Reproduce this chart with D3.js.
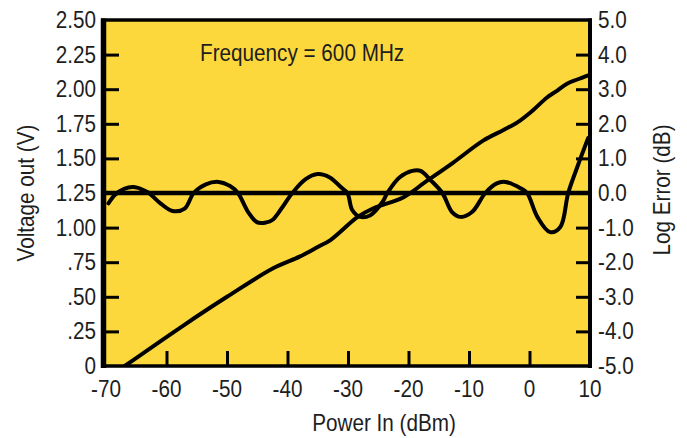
<!DOCTYPE html>
<html>
<head>
<meta charset="utf-8">
<script src="https://cdn.jsdelivr.net/npm/d3@7"></script>
<style>
  html, body { margin: 0; padding: 0; background: #fff; }
  svg text { font-family: "Liberation Sans", Arial, Helvetica, sans-serif; fill: #1e1e1e; }
</style>
</head>
<body>
<svg id="chart" width="687" height="438"></svg>
<script>
// ---- data ----
const xTicks = [-70, -60, -50, -40, -30, -20, -10, 0, 10];
const leftTicks = [0, 0.25, 0.5, 0.75, 1.0, 1.25, 1.5, 1.75, 2.0, 2.25, 2.5];
const leftTickLabels = ["0", ".25", ".50", ".75", "1.00", "1.25", "1.50", "1.75", "2.00", "2.25", "2.50"];
const rightTicks = [-5, -4, -3, -2, -1, 0, 1, 2, 3, 4, 5];
const rightTickLabels = ["-5.0", "-4.0", "-3.0", "-2.0", "-1.0", "0.0", "1.0", "2.0", "3.0", "4.0", "5.0"];

const voltPower = [-66.9, -57.1, -50, -42.3, -38, -35, -32.9, -28.4, -25.8, -20.8, -17.2, -12.6, -7.6, -4.3, -2.0, 0.1, 2.9, 4.6, 6.2, 7.9, 9.7];
const voltValues = [0, 0.296, 0.50, 0.708, 0.79, 0.86, 0.91, 1.077, 1.14, 1.22, 1.33, 1.47, 1.63, 1.705, 1.76, 1.83, 1.94, 1.99, 2.04, 2.07, 2.10];

const errPower = [-69.6, -68.5, -67, -65.5, -64, -62.9, -61, -59, -57, -55.5, -53.5, -51.4, -49.5, -48.2, -46.5, -45, -43.5, -42.5, -41, -39.2, -37, -35, -33, -31.2, -30.1, -29.3, -28, -26.3, -24.3, -23.5, -21.5, -19.4, -18, -16.4, -14.4, -12.8, -11.4, -9.5, -7.3, -5.5, -4.0, -1.5, -0.4, 1.3, 3.4, 5.1, 6.4, 7.9, 9.7];
const errValues = [-0.3, -0.05, 0.12, 0.17, 0.1, 0.0, -0.3, -0.52, -0.45, 0.0, 0.25, 0.32, 0.2, 0.0, -0.55, -0.85, -0.85, -0.78, -0.45, 0.0, 0.4, 0.55, 0.45, 0.17, 0.0, -0.49, -0.69, -0.64, -0.26, 0.0, 0.45, 0.64, 0.64, 0.38, 0.0, -0.55, -0.69, -0.55, 0.0, 0.27, 0.32, 0.14, 0.0, -0.69, -1.13, -0.98, 0.0, 0.75, 1.59];

const titleText = "Frequency = 600 MHz";
const xTitle = "Power In (dBm)";
const yLeftTitle = "Voltage out (V)";
const yRightTitle = "Log Error (dB)";

// ---- layout ----
const L = 106, R = 590, T = 20, B = 366;
const FS = 23, SX = 0.9;
const svg = d3.select("#chart");

const x = d3.scaleLinear().domain([-70, 10]).range([L, R]);
const yV = d3.scaleLinear().domain([0, 2.5]).range([B, T]);
const yE = d3.scaleLinear().domain([-5, 5]).range([B, T]);

// plot background
svg.append("rect").attr("x", L).attr("y", T).attr("width", R - L).attr("height", B - T)
  .attr("fill", "#FDD83D");

svg.append("defs").append("clipPath").attr("id", "clip")
  .append("rect").attr("x", L).attr("y", T).attr("width", R - L).attr("height", B - T);

// helper for condensed text
function label(txt, px, py, anchor, rot) {
  const g = svg.append("g").attr("transform", `translate(${px},${py})` + (rot ? ` rotate(${rot})` : "") + ` scale(${SX},1)`);
  g.append("text").attr("text-anchor", anchor).attr("font-size", FS).text(txt);
  return g;
}

// ticks (inward) via axes
const axL = d3.axisRight(yV).tickValues(leftTicks.slice(1, -1)).tickSize(13).tickFormat("");
const axR = d3.axisLeft(yE).tickValues(rightTicks.slice(1, -1)).tickSize(14).tickFormat("");
const axB = d3.axisTop(x).tickValues(xTicks.slice(1, -1)).tickSize(15).tickFormat("");
[ [axL, `translate(${L},0)`], [axR, `translate(${R},0)`], [axB, `translate(0,${B})`] ].forEach(([ax, tr]) => {
  const g = svg.append("g").attr("transform", tr).call(ax);
  g.select(".domain").remove();
  g.selectAll("line").attr("stroke", "#000").attr("stroke-width", 3);
});

// zero line for log error
svg.append("line").attr("x1", L).attr("x2", R).attr("y1", yE(0)).attr("y2", yE(0))
  .attr("stroke", "#000").attr("stroke-width", 4.5);

// curves
const cg = svg.append("g").attr("clip-path", "url(#clip)");
const voltData = voltPower.map((p, i) => [p, voltValues[i]]);
const errData = errPower.map((p, i) => [p, errValues[i]]);
cg.append("path").datum(voltData)
  .attr("d", d3.line().x(d => x(d[0])).y(d => yV(d[1])).curve(d3.curveCatmullRom.alpha(0.5)))
  .attr("fill", "none").attr("stroke", "#000").attr("stroke-width", 4).attr("stroke-linejoin", "round").attr("stroke-linecap", "round");
cg.append("path").datum(errData)
  .attr("d", d3.line().x(d => x(d[0])).y(d => yE(d[1])).curve(d3.curveCatmullRom.alpha(0.5)))
  .attr("fill", "none").attr("stroke", "#000").attr("stroke-width", 4).attr("stroke-linejoin", "round").attr("stroke-linecap", "round");

// frame
svg.append("line").attr("x1", L - 2.5).attr("x2", L - 2.5).attr("y1", T - 1.5).attr("y2", B + 2).attr("stroke", "#000").attr("stroke-width", 5.5);
svg.append("line").attr("x1", L - 5).attr("x2", R + 2).attr("y1", T).attr("y2", T).attr("stroke", "#000").attr("stroke-width", 3.5);
svg.append("line").attr("x1", R).attr("x2", R).attr("y1", T - 1.5).attr("y2", B + 2).attr("stroke", "#000").attr("stroke-width", 4);
svg.append("line").attr("x1", L - 5).attr("x2", R + 2).attr("y1", B).attr("y2", B).attr("stroke", "#000").attr("stroke-width", 3.5);

// tick labels
leftTicks.forEach((v, i) => label(leftTickLabels[i], 96, yV(v) + 8, "end"));
rightTicks.forEach((v, i) => label(rightTickLabels[i], 598, yE(v) + 8, "start"));
xTicks.forEach(v => label(String(v), x(v), 397, "middle"));

// titles
label(titleText, 200, 61, "start");
label(xTitle, 384, 431, "middle");
label(yLeftTitle, 34, 193, "middle", -90);
label(yRightTitle, 670, 190, "middle", -90);
</script>
</body>
</html>
